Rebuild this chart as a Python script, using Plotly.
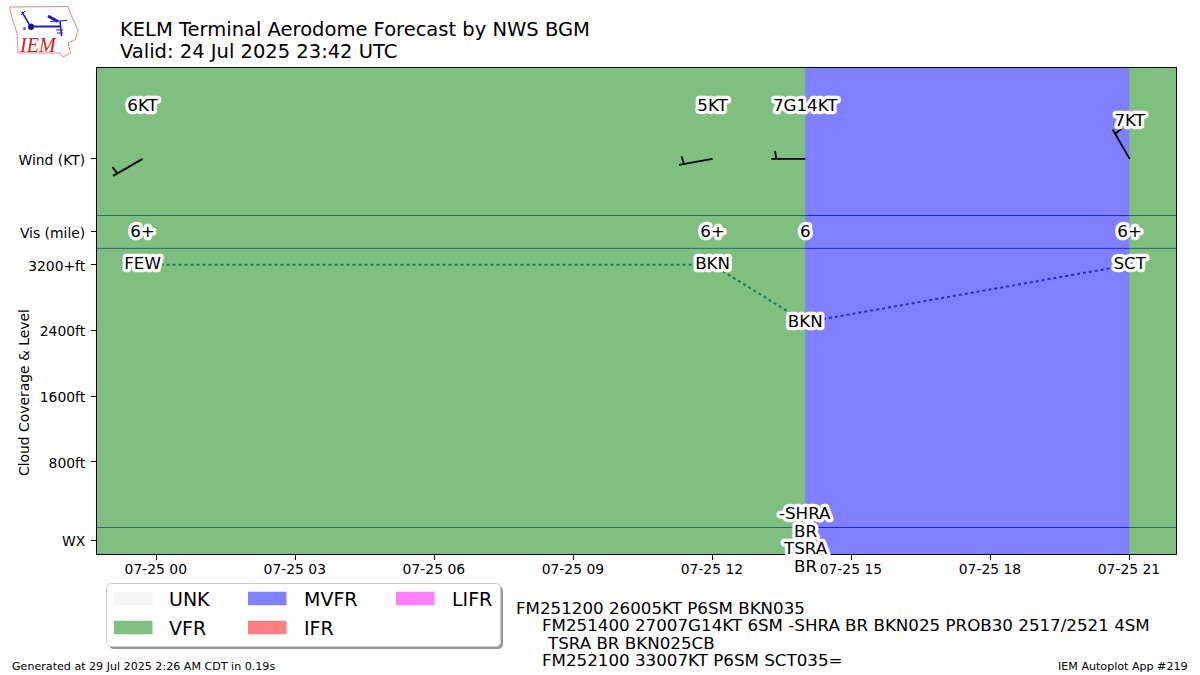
import json
import math
import plotly.graph_objects as go

# ---------- data ----------
wind_times = ["2025-07-24 23:42", "2025-07-25 12:00", "2025-07-25 14:00", "2025-07-25 21:00"]
wind_dirs = [240, 260, 270, 330]
wind_labels = ["6KT", "5KT", "7G14KT", "7KT"]
wind_label_levels = [5134, 5134, 5134, 4952]
vis_labels = ["6+", "6+", "6", "6+"]
vis_label_levels = [3595, 3595, 3595, 3595]
cloud_levels = [3200, 3200, 2500, 3200]
cloud_labels = ["FEW", "BKN", "BKN", "SCT"]
wx_time = "2025-07-25 14:00"
wx_labels = ["-SHRA", "BR", "TSRA", "BR"]
wx_levels = [177, -43, -250, -469]
band_starts = ["2025-07-24 22:43", "2025-07-25 14:00", "2025-07-25 21:00"]
band_ends = ["2025-07-25 14:00", "2025-07-25 21:00", "2025-07-25 22:00"]
band_cats = ["VFR", "MVFR", "VFR"]
cat_colors = {"UNK": "#F5F5F5", "VFR": "#7FBF7F", "MVFR": "#8080FF", "IFR": "#FF8080", "LIFR": "#FF80FF"}
legend_cols = [["UNK", "VFR"], ["MVFR", "IFR"], ["LIFR"]]
divider_levels = [3800, 3400, 0]
y_tickvals = [4490, 3600, 3200, 2400, 1600, 800, -155]
y_ticktext = ["Wind (KT)", "Vis (mile)", "3200+ft", "2400ft", "1600ft", "800ft", "WX"]
x_tickvals = ["2025-07-25 00:00", "2025-07-25 03:00", "2025-07-25 06:00", "2025-07-25 09:00",
              "2025-07-25 12:00", "2025-07-25 15:00", "2025-07-25 18:00", "2025-07-25 21:00"]
title_lines = ["KELM Terminal Aerodome Forecast by NWS BGM", "Valid: 24 Jul 2025 23:42 UTC"]
taf_lines = ["FM251200 26005KT P6SM BKN035",
             "FM251400 27007G14KT 6SM -SHRA BR BKN025 PROB30 2517/2521 4SM",
             "TSRA BR BKN025CB",
             "FM252100 33007KT P6SM SCT035="]

# ---------- layout constants ----------
W, H = 1200, 675
L, R, T, B = 97, 1176, 68, 554
FONT = "DejaVu Sans"
Y_RANGE = [-322.8, 5597.2]
X_RANGE = ["2025-07-24 22:43", "2025-07-25 22:00"]
PX_PER_FT = (B - T) / (Y_RANGE[1] - Y_RANGE[0])
PX_PER_HOUR = 46.35
WIND_LEVEL = 4490


def px(x):
    return (x - L) / (R - L)


def py(y):
    return (B - y) / (B - T)


def level_frac(v):
    return (v - Y_RANGE[0]) / (Y_RANGE[1] - Y_RANGE[0])


def hours(ts):
    d, t = ts.split(" ")
    h, m = t.split(":")
    return int(d[-2:]) * 24 + int(h) + int(m) / 60


def stamp(h):
    day = int(h // 24)
    rem = h - day * 24
    hh = int(rem)
    rem = (rem - hh) * 60
    mm = int(rem)
    ss = (rem - mm) * 60
    return f"2025-07-{day:02d} {hh:02d}:{mm:02d}:{ss:06.3f}"


label_font = dict(family=FONT, size=16.7, color="black")

fig = go.Figure()

# dotted cloud line, coloured by flight category of each leg
cloud_leg_colors = ["#1c7d5c", "#1c7d5c", "#2626e6"]
for i, col in enumerate(cloud_leg_colors):
    fig.add_trace(go.Scatter(x=wind_times[i:i + 2], y=cloud_levels[i:i + 2], mode="lines",
                             line=dict(color=col, width=2, dash="dot"), hoverinfo="skip", showlegend=False))

# divider lines, segmented by band
for lvl in divider_levels:
    for s, e, c in zip(band_starts, band_ends, band_cats):
        fig.add_trace(go.Scatter(x=[s, e], y=[lvl, lvl], mode="lines",
                                 line=dict(color="#2a6a6a" if c == "VFR" else "#2222ee", width=1),
                                 hoverinfo="skip", showlegend=False))

# wind barbs computed from direction
bx, by = [], []
STAFF, BARB, INSET, LEAN = 34, 8, 5, 1.2
for ts, d in zip(wind_times, wind_dirs):
    h0 = hours(ts)
    ux, uy = math.sin(math.radians(d)), math.cos(math.radians(d))
    nx, ny = uy, -ux
    tip = (ux * STAFF, uy * STAFF)
    root = (ux * (STAFF - INSET), uy * (STAFF - INSET))
    end = (root[0] + nx * BARB + ux * LEAN, root[1] + ny * BARB + uy * LEAN)
    for seg in [[(0, 0), tip], [root, end]]:
        for p in seg:
            bx.append(stamp(h0 + p[0] / PX_PER_HOUR))
            by.append(WIND_LEVEL + p[1] / PX_PER_FT)
        bx.append(None)
        by.append(None)
fig.add_trace(go.Scatter(x=bx, y=by, mode="lines", line=dict(color="black", width=1.8),
                         hoverinfo="skip", showlegend=False, cliponaxis=False, connectgaps=False))

# labels with white halo
groups = [
    (wind_times, wind_label_levels, wind_labels),
    (wind_times, vis_label_levels, vis_labels),
    (wind_times, cloud_levels, cloud_labels),
]
for xs, ys, ts in groups:
    fig.add_trace(go.Scatter(x=xs, y=ys, text=ts, mode="text", textposition="middle center",
                             textfont=label_font, cliponaxis=False, hoverinfo="skip", showlegend=False))

shapes = []
# flight category bands
for s, e, c in zip(band_starts, band_ends, band_cats):
    shapes.append(dict(type="rect", xref="x", yref="paper", x0=s, x1=e, y0=0, y1=1,
                       fillcolor=cat_colors[c], line_width=0, layer="below"))


def round_rect(x0, y0, x1, y1, r):
    a, b, c, d = px(x0), px(x1), py(y0), py(y1)
    rx, ry = r / (R - L), r / (B - T)
    return (f"M {a+rx} {c} L {b-rx} {c} Q {b} {c} {b} {c-ry} L {b} {d+ry} Q {b} {d} {b-rx} {d} "
            f"L {a+rx} {d} Q {a} {d} {a} {d+ry} L {a} {c-ry} Q {a} {c} {a+rx} {c} Z")


# legend frame
shapes.append(dict(type="path", xref="paper", yref="paper", path=round_rect(109, 586, 503, 649, 5),
                   fillcolor="#9a9a9a", line_width=0, layer="above"))
shapes.append(dict(type="path", xref="paper", yref="paper", path=round_rect(106.5, 583.5, 500.5, 646.5, 5),
                   fillcolor="white", line=dict(color="#cccccc", width=1), layer="above"))

annos = []


def note(x, y, text, size, anchor="left", family=FONT, color="black", angle=0, xref="paper", yref="paper"):
    annos.append(dict(xref=xref, yref=yref, x=x, y=y, text=text, showarrow=False, xanchor=anchor, yanchor="middle",
                      textangle=angle, borderpad=0, borderwidth=0,
                      font=dict(family=family, size=size, color=color)))


col_x = [114, 248, 396]
col_text_x = [169, 304, 452]
row_y = [598.5, 627.5]
for cx, tx, col in zip(col_x, col_text_x, legend_cols):
    for ry, name in zip(row_y, col):
        shapes.append(dict(type="rect", xref="paper", yref="paper", x0=px(cx), x1=px(cx + 38.5),
                           y0=py(ry + 6.8), y1=py(ry - 6.8), fillcolor=cat_colors[name], line_width=0,
                           layer="above"))
        note(px(tx), py(ry), name, 19)

# present weather labels (extend below the axes, so they are placed in paper space)
for lvl, t in zip(wx_levels, wx_labels):
    note(wx_time, level_frac(lvl), t, 16.7, anchor="center", xref="x")

# logo outline (Iowa) and glyphs
outline = [(9.5, 7), (68, 6.5), (71, 15), (78, 30), (75, 40), (68, 43), (70.5, 53), (63, 57), (60, 53),
           (18, 53), (17, 33), (12, 18)]
path = "M " + " L ".join(f"{px(x)} {py(y)}" for x, y in outline) + " Z"
shapes.append(dict(type="path", xref="paper", yref="paper", path=path, line=dict(color="#e08a8a", width=1),
                   fillcolor="white"))
for seg, w in [([(31, 26.5), (60, 26.5)], 2), ([(48, 16), (58, 21.5)], 3), ([(50, 21.5), (67, 20.5)], 1),
               ([(60, 21), (61.5, 36)], 1.5), ([(22, 12), (29, 24)], 1.5), ([(21, 15), (25, 11)], 1),
               ([(56, 30), (63, 30)], 1), ([(57, 33), (63, 33)], 1)]:
    shapes.append(dict(type="line", xref="paper", yref="paper", x0=px(seg[0][0]), y0=py(seg[0][1]),
                       x1=px(seg[1][0]), y1=py(seg[1][1]), line=dict(color="#1a1ad0", width=w)))
shapes.append(dict(type="circle", xref="paper", yref="paper", x0=px(28), x1=px(34), y0=py(30), y1=py(23.5),
                   fillcolor="#1010b0", line_width=0))
shapes.append(dict(type="circle", xref="paper", yref="paper", x0=px(23), x1=px(26), y0=py(30), y1=py(27),
                   fillcolor="#5a5ae0", line_width=0))
note(px(37.5), py(45), "<i>IEM</i>", 20, anchor="center", family="Liberation Serif", color="#d42020")

# title
for yy, line in zip([29, 51], title_lines):
    note(px(120), py(yy), line, 19.5)
# TAF text
for (xx, yy), line in zip([(516, 608), (542, 625), (547, 643), (542, 660)], taf_lines):
    note(px(xx), py(yy), line, 16.7)
# footers
note(px(12), py(666), "Generated at 29 Jul 2025 2:26 AM CDT in 0.19s", 11.1)
note(px(1188), py(666), "IEM Autoplot App #219", 11.1, anchor="right")
# y axis title
note(px(24), py(393), "Cloud Coverage &amp; Level", 13.9, anchor="center", angle=-90)

axis_common = dict(tickmode="array", ticks="outside", ticklen=5, tickwidth=1, tickcolor="black", showgrid=False,
                   zeroline=False, showline=True, linecolor="black", linewidth=1, mirror=True,
                   layer="above traces", tickfont=dict(family=FONT, size=13.9, color="black"))

fig.update_layout(
    width=W, height=H, autosize=False,
    margin=dict(l=L, r=W - R, t=T, b=H - B, pad=0, autoexpand=False),
    paper_bgcolor="white", plot_bgcolor=cat_colors["VFR"],
    font=dict(family=FONT, size=13.9, color="black"),
    showlegend=False, shapes=shapes, annotations=annos,
    xaxis=dict(type="date", range=X_RANGE, tickvals=x_tickvals, tickformat="%m-%d %H", **axis_common),
    yaxis=dict(range=Y_RANGE, tickvals=y_tickvals, ticktext=y_ticktext, **axis_common),
)

post = """
document.body.style.margin='0';
var wx = new Set(%s);
function halo(t){t.style.stroke='#fff';t.style.strokeWidth='6.5px';t.style.strokeLinejoin='round';t.style.paintOrder='stroke';}
document.querySelectorAll('.textpoint text').forEach(function(t){
  t.setAttribute('y', parseFloat(t.getAttribute('y'))+0.5); halo(t);});
document.querySelectorAll('.annotation-text').forEach(function(t){ if(wx.has(t.textContent)) halo(t);});
document.querySelectorAll('.xtick text').forEach(function(t){
  t.setAttribute('x', parseFloat(t.getAttribute('x'))-0.7);
  t.setAttribute('y', parseFloat(t.getAttribute('y'))-3);});
document.querySelectorAll('.ytick text').forEach(function(t){
  t.setAttribute('x', parseFloat(t.getAttribute('x'))-3);
  t.setAttribute('y', parseFloat(t.getAttribute('y'))+1);});
""" % json.dumps(wx_labels)

fig.write_html("out.html", post_script=post, config={"displayModeBar": False})
